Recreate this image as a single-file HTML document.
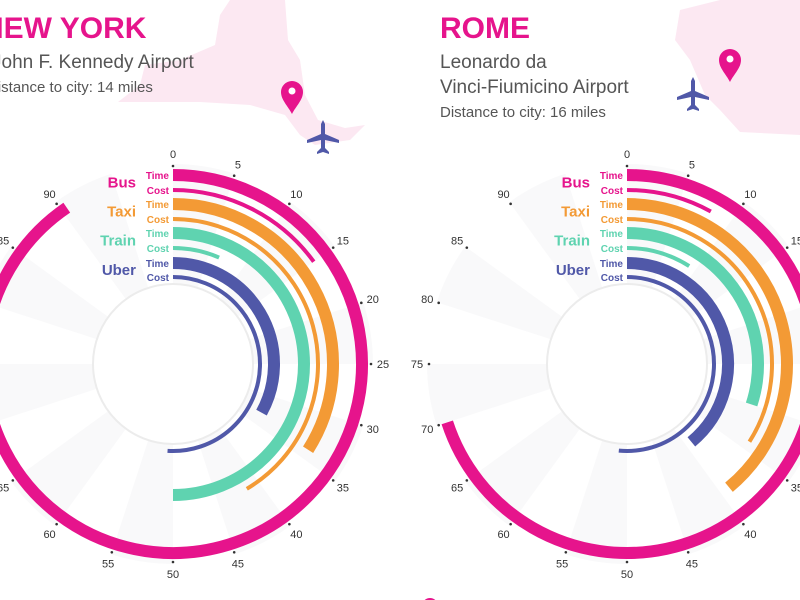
<!DOCTYPE html>
<html><head><meta charset="utf-8"><style>
html,body{margin:0;padding:0;background:#fff;width:800px;height:600px;overflow:hidden}
svg{display:block;font-family:"Liberation Sans",sans-serif}
</style></head><body>
<svg id="s" width="800" height="600" viewBox="0 0 800 600">
<g>
<path d="M230,0 L285,0 L288,40 L300,60 L305,95 L318,120 L345,128 L365,125 L350,140 L315,145 L300,135 L285,115 L250,105 L200,102 L118,102 L140,85 L145,65 L180,60 L215,45 L220,15 Z" fill="#fce8f2"/>
</g>
<g>
<path d="M680,10 L720,0 L800,0 L800,135 L740,132 L720,110 L705,95 L690,60 L675,40 Z" fill="#fce8f2"/>
</g>
<text x="-18" y="38" font-size="30" font-weight="bold" fill="#e6148c">NEW YORK</text>
<text x="-8" y="68" font-size="19" fill="#555">John F. Kennedy Airport</text>
<text x="-13" y="92" font-size="15" fill="#555">Distance to city: 14 miles</text>
<text x="440" y="38" font-size="30" font-weight="bold" fill="#e6148c">ROME</text>
<text x="440" y="68" font-size="19" fill="#555">Leonardo da</text>
<text x="440" y="93" font-size="19" fill="#555">Vinci-Fiumicino Airport</text>
<text x="440" y="117" font-size="15" fill="#555">Distance to city: 16 miles</text>
<g id="icons"></g>
<g id="charts"></g>
<circle cx="430" cy="606" r="8" fill="#e6148c"/>
<text x="-4" y="619" font-size="20" font-weight="bold" fill="#e6148c">Bus Time</text>
<text x="448" y="619" font-size="20" font-weight="bold" fill="#e6148c">Bus Time</text>
</svg>
<script>
const modes = ["Bus","Taxi","Train","Uber"];
const modeColors = ["#e6148c","#f39a35","#5fd3b0","#5058a8"];
const nyTime = [90.5, 34, 50, 33];
const nyCost = [15, 41.5, 6.5, 51];
const romeTime = [70, 39, 30, 39];
const romeCost = [8, 34, 9, 51.5];
const tickValues = [0,5,10,15,20,25,30,35,40,45,50,55,60,65,70,75,80,85,90];
const NS="http://www.w3.org/2000/svg";
const charts=document.getElementById('charts');
function ang(v){return v/100*2*Math.PI;}
function pt(cx,cy,r,v){const a=ang(v);return [cx+r*Math.sin(a),cy-r*Math.cos(a)];}
function arcPath(cx,cy,r,v0,v1){const p0=pt(cx,cy,r,v0),p1=pt(cx,cy,r,v1);const large=(v1-v0)>50?1:0;return `M${p0[0]},${p0[1]} A${r},${r} 0 ${large} 1 ${p1[0]},${p1[1]}`;}
function el(tag,attrs,parent){const e=document.createElementNS(NS,tag);for(const k in attrs)e.setAttribute(k,attrs[k]);parent.appendChild(e);return e;}
const rTime=[189,160,131,101], rCost=[174,145,116,87];
function chart(cx,cy,times,costs,name){
  const g=el('g',{},charts);
  
  
  for(let i=0;i<20;i+=2){
    const v0=i*5,v1=i*5+5;
    const p0=pt(cx,cy,200,v0),p1=pt(cx,cy,200,v1);
    const w=el('path',{d:`M${cx},${cy} L${p0[0]},${p0[1]} A200,200 0 0 1 ${p1[0]},${p1[1]} Z`,fill:'#f9f9fa'},g);
    
    
  }
  const ic=el('circle',{cx:cx,cy:cy,r:80,fill:'#fff',stroke:'#ececec','stroke-width':2},g);
  
  
  tickValues.forEach(t=>{
    const d=pt(cx,cy,198,t);
    const dot=el('circle',{cx:d[0],cy:d[1],r:1.3,fill:'#333'},g);
    
    
    const l=pt(cx,cy,210,t);
    const tx=el('text',{x:l[0],y:l[1]+4,'font-size':11,fill:'#333','text-anchor':'middle'},g);
    tx.textContent=t;
    
    
  });
  modes.forEach((m,i)=>{
    const a=el('path',{d:arcPath(cx,cy,rTime[i],0,times[i]),stroke:modeColors[i],'stroke-width':12,fill:'none'},g);
    
    
    const b=el('path',{d:arcPath(cx,cy,rCost[i],0,costs[i]),stroke:modeColors[i],'stroke-width':4,fill:'none'},g);
    
    
    const t1=el('text',{x:cx-4,y:cy-rTime[i]+4,'font-size':10,'font-weight':'bold',fill:modeColors[i],'text-anchor':'end'},g);
    t1.textContent='Time';
    
    
    const t2=el('text',{x:cx-4,y:cy-rCost[i]+4,'font-size':10,'font-weight':'bold',fill:modeColors[i],'text-anchor':'end'},g);
    t2.textContent='Cost';
    
    
    const t3=el('text',{x:cx-37,y:cy-(rTime[i]+rCost[i])/2+5,'font-size':15,'font-weight':'bold',fill:modeColors[i],'text-anchor':'end'},g);
    t3.textContent=m;
    
    
  });
}
chart(173,364,nyTime,nyCost,'new-york');
chart(627,364,romeTime,romeCost,'rome');
const icons=document.getElementById('icons');
function pin(x,y,name){
  const p=el('path',{d:`M${x},${y+22} C${x-4},${y+14} ${x-11},${y+8} ${x-11},${y} A11,11 0 1 1 ${x+11},${y} C${x+11},${y+8} ${x+4},${y+14} ${x},${y+22} Z`,fill:'#e6148c'},icons);
  
  
  el('circle',{cx:x,cy:y-1,r:3.5,fill:'#fff'},icons);
}
function plane(x,y,name){
  const p=el('path',{d:`M${x},${y-18} L${x+2},${y-14} L${x+2},${y-4} L${x+16},${y+2} L${x+16},${y+5} L${x+2},${y+2} L${x+2},${y+10} L${x+6},${y+14} L${x+6},${y+16} L${x},${y+14} L${x-6},${y+16} L${x-6},${y+14} L${x-2},${y+10} L${x-2},${y+2} L${x-16},${y+5} L${x-16},${y+2} L${x-2},${y-4} L${x-2},${y-14} Z`,fill:'#5058a8'},icons);
  
  
}
pin(292,92,'ny-location-pin');
pin(730,60,'rome-location-pin');
plane(323,138,'ny-airport-plane-icon');
plane(693,95,'rome-airport-plane-icon');
</script>
</body></html>
